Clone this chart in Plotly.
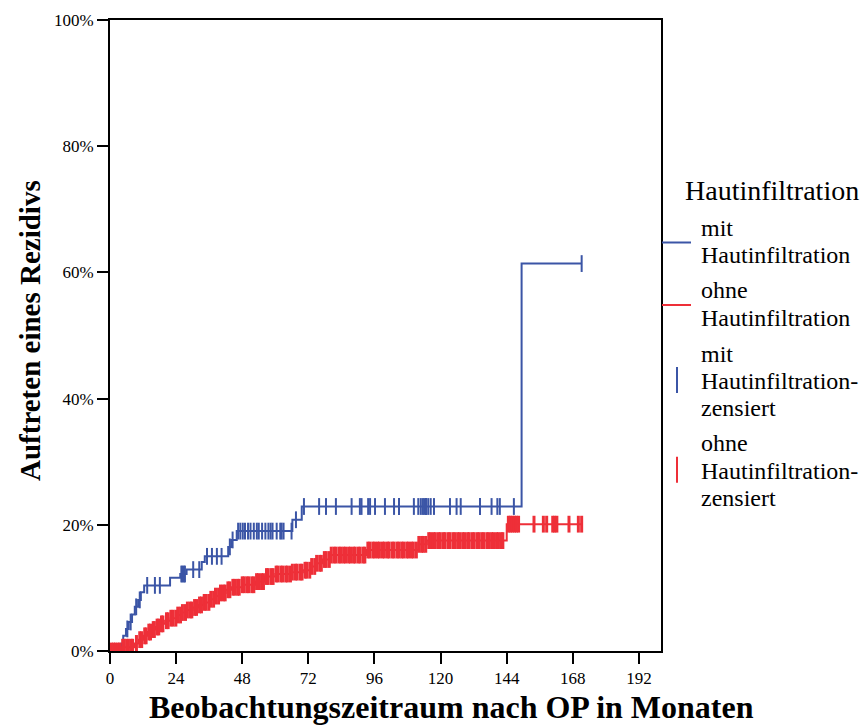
import numpy as np
import plotly.graph_objects as go

# Cumulative incidence of recurrence (%), Kaplan-Meier style step data
mit_t = [0, 4.2, 4.8, 5.8, 6.8, 8.0, 9.0, 10.2, 11.2, 12.4, 21.8, 25.5, 27.8,
         33.3, 34.4, 42.9, 44.0, 46.0, 66.2, 69.6, 149.4]
mit_v = [0, 1.2, 2.4, 3.5, 4.6, 5.8, 7.0, 8.1, 9.3, 10.4, 11.6, 12.2, 12.9,
         14.1, 15.0, 16.5, 17.6, 19.0, 20.8, 22.9, 61.4]
mit_end = 171.2

ohne_t = [0, 4.0, 9.0, 10.5, 12.0, 13.5, 15.0, 16.5, 18.0, 20.0, 22.0, 24.0,
          26.0, 28.0, 30.0, 32.0, 34.0, 36.0, 38.0, 40.0, 42.0, 44.0, 48.0,
          53.0, 56.0, 60.0, 66.0, 70.0, 73.0, 75.0, 77.0, 80.0, 93.0, 112.0,
          115.0, 144.0]
ohne_v = [0, 0.6, 1.2, 1.8, 2.4, 3.0, 3.4, 3.8, 4.3, 4.8, 5.2, 5.7,
          6.1, 6.5, 6.9, 7.3, 7.7, 8.2, 8.7, 9.2, 9.7, 10.1, 10.5,
          11.0, 11.8, 12.2, 12.5, 12.8, 13.4, 13.9, 14.5, 15.2, 16.0, 16.9,
          17.5, 20.1]
ohne_end = 171.2

# Censored observations (months)
mit_cens = [6.3, 7.5, 9.5, 10.8, 13.5, 16.3, 18.1, 25.9, 26.3, 26.8, 27.2,
            30.2, 32.4, 35.2, 37.0, 38.8, 40.5, 43.5, 44.5, 46.5, 47.3, 48.2,
            49.0, 50.1, 51.0, 52.2, 53.3, 54.0, 55.2, 56.4, 57.5, 58.3, 59.0,
            60.5, 61.8, 62.3, 63.0, 65.9, 67.5, 70.4, 75.9, 78.4, 82.0, 87.7,
            90.7, 91.3, 93.7, 94.4, 96.2, 99.8, 103.1, 104.9, 110.3, 111.9,
            112.8, 113.5, 114.0, 114.7, 115.5, 116.4, 117.6, 123.4, 125.8,
            127.3, 134.3, 138.5, 140.6, 141.5, 146.6, 171.2]

ohne_cens = [0.5, 1.3, 2.0, 2.9, 3.5, 4.6, 5.2, 6.1, 6.7, 7.7, 8.2, 9.6,
             10.8, 11.5, 12.6, 13.1, 14.1, 14.7, 15.7, 16.1, 17.1, 17.7, 18.7,
             19.2, 20.5, 21.1, 22.1, 22.9, 23.9, 24.6, 25.6, 26.3, 27.4, 28.1,
             29.1, 29.7, 30.7, 31.4, 32.5, 33.2, 34.2, 34.9, 35.9, 36.6, 37.6,
             38.3, 39.4, 40.1, 41.1, 41.8, 42.8, 43.5, 44.6, 45.3, 46.3, 46.9,
             48.0, 48.7, 49.7, 50.4, 51.5, 52.2, 53.2, 53.9, 55.0, 55.7, 56.8,
             57.4, 58.5, 59.2, 60.3, 60.9, 62.0, 62.7, 63.8, 64.4, 65.5, 66.2,
             67.3, 67.9, 69.0, 69.7, 70.8, 71.4, 72.5, 73.2, 74.3, 75.0, 76.1,
             76.7, 77.8, 78.5, 79.6, 80.3, 81.3, 82.0, 83.1, 83.8, 84.8, 85.5,
             86.6, 87.3, 88.4, 89.0, 90.1, 90.8, 91.9, 92.5, 93.6, 94.3, 95.4,
             96.1, 97.1, 97.8, 98.9, 99.6, 100.7, 101.3, 102.4, 103.1, 104.2,
             104.9, 105.9, 106.6, 107.7, 108.4, 109.4, 110.1, 111.2, 112.1,
             113.1, 113.7, 114.6, 115.7, 116.4, 117.4, 118.1, 119.2, 119.9,
             121.0, 121.6, 122.7, 123.4, 124.5, 125.2, 126.2, 126.9, 128.0,
             128.7, 129.8, 130.4, 131.5, 132.2, 133.3, 134.0, 135.0, 135.7,
             136.8, 137.5, 138.5, 139.2, 140.3, 141.0, 142.0, 142.6, 144.6,
             145.3, 146.0, 146.8, 147.5, 148.3, 153.9, 157.3, 158.5, 160.7,
             161.4, 162.2, 166.6, 170.0, 171.2]

x_ticks = [0, 24, 48, 72, 96, 120, 144, 168, 192]
y_ticks = [0, 20, 40, 60, 80, 100]
y_labels = ["0%", "20%", "40%", "60%", "80%", "100%"]

legend_title = "Hautinfiltration"
legend_entries = [
    ("line", "blue", ["mit", "Hautinfiltration"]),
    ("line", "red", ["ohne", "Hautinfiltration"]),
    ("tick", "blue", ["mit", "Hautinfiltration-", "zensiert"]),
    ("tick", "red", ["ohne", "Hautinfiltration-", "zensiert"]),
]

COLORS = {"blue": "#3B55A6", "red": "#EE2F38"}
FONT = "Times New Roman, Liberation Serif, Tinos, serif"

# Page geometry (px)
W, H = 863, 726
L, R, T, B = 110, 202, 20, 75
PW, PH = W - L - R, H - T - B


def px_x(x):
    return (x - L) / PW


def px_y(y):
    return (H - B - y) / PH


def step_value(times, values, at):
    idx = np.searchsorted(np.asarray(times), np.asarray(at), side="right") - 1
    return np.asarray(values)[idx]


fig = go.Figure()

fig.add_trace(go.Scatter(
    x=mit_t + [mit_end], y=mit_v + [mit_v[-1]], mode="lines",
    line=dict(color=COLORS["blue"], width=2, shape="hv"), showlegend=False))
fig.add_trace(go.Scatter(
    x=ohne_t + [ohne_end], y=ohne_v + [ohne_v[-1]], mode="lines",
    line=dict(color=COLORS["red"], width=2, shape="hv"), showlegend=False))
fig.add_trace(go.Scatter(
    x=ohne_cens, y=step_value(ohne_t, ohne_v, ohne_cens), mode="markers",
    marker=dict(symbol="line-ns", size=12, color=COLORS["red"],
                line=dict(color=COLORS["red"], width=3)),
    showlegend=False))
fig.add_trace(go.Scatter(
    x=mit_cens, y=step_value(mit_t, mit_v, mit_cens), mode="markers",
    marker=dict(symbol="line-ns", size=12, color=COLORS["blue"],
                line=dict(color=COLORS["blue"], width=2)),
    showlegend=False))

axis_common = dict(showline=True, linecolor="black", linewidth=2, mirror=True,
                   ticks="outside", ticklen=11, tickwidth=2, tickcolor="black",
                   showgrid=False, zeroline=False,
                   tickfont=dict(family=FONT, size=17, color="black"))

fig.update_xaxes(range=[0, 200], tickvals=x_ticks, **axis_common)
fig.update_yaxes(range=[0, 100], tickvals=y_ticks, ticktext=y_labels,
                 **axis_common)

annotations = [
    dict(text="<b>Beobachtungszeitraum nach OP in Monaten</b>",
         x=px_x(451), y=px_y(707.5), xanchor="center", yanchor="middle",
         font=dict(family=FONT, size=32, color="black")),
    dict(text="<b>Auftreten eines Rezidivs</b>",
         x=px_x(30), y=px_y(331), xanchor="center", yanchor="middle",
         textangle=-90, font=dict(family=FONT, size=29, color="black")),
    dict(text=legend_title, x=px_x(683), y=px_y(190), xanchor="left",
         yanchor="middle", font=dict(family=FONT, size=28, color="black")),
]
shapes = []

# Legend built from text lines and symbol shapes
line_centres = [[228, 255], [290, 318], [354, 381, 408], [443, 471, 498]]
for (kind, colour, lines), centres in zip(legend_entries, line_centres):
    for text, yc in zip(lines, centres):
        annotations.append(dict(text=text, x=px_x(699), y=px_y(yc),
                                xanchor="left", yanchor="middle",
                                font=dict(family=FONT, size=24,
                                          color="black")))
    mid = sum(centres) / len(centres)
    if kind == "line":
        ym = (centres[0] + centres[-1]) / 2 + 1
        shapes.append(dict(type="line", xref="paper", yref="paper",
                           x0=px_x(662), x1=px_x(691), y0=px_y(ym),
                           y1=px_y(ym),
                           line=dict(color=COLORS[colour], width=2)))
    else:
        shapes.append(dict(type="line", xref="paper", yref="paper",
                           x0=px_x(677), x1=px_x(677), y0=px_y(mid - 14),
                           y1=px_y(mid + 12),
                           line=dict(color=COLORS[colour], width=2)))

for a in annotations:
    a.update(xref="paper", yref="paper", showarrow=False)

fig.update_layout(
    width=W, height=H,
    margin=dict(l=L, r=R, t=T, b=B),
    plot_bgcolor="white", paper_bgcolor="white",
    font=dict(family=FONT, color="black"),
    showlegend=False,
    annotations=annotations,
    shapes=shapes,
)

fig.write_html("out.html")
